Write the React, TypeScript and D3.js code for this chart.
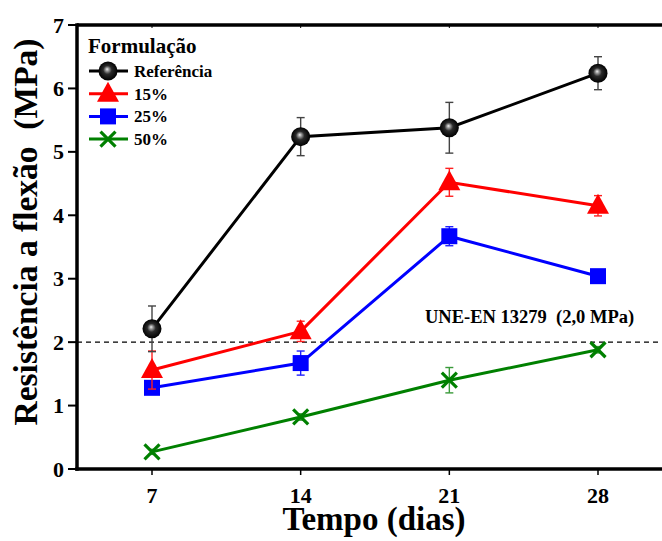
import React from "react";
import * as d3 from "d3";

const days = [7, 14, 21, 28];
const seriesNames = ["Referência", "15%", "25%", "50%"];
const refValues = [2.21, 5.24, 5.38, 6.24];
const refErrors = [0.36, 0.3, 0.4, 0.26];
const p15Values = [1.56, 2.17, 4.52, 4.15];
const p15Errors = [0.3, 0.16, 0.22, 0.16];
const p25Values = [1.28, 1.67, 3.67, 3.04];
const p25Errors = [0.05, 0.19, 0.15, 0.05];
const p50Values = [0.27, 0.82, 1.4, 1.88];
const p50Errors = [0.04, 0.05, 0.2, 0.05];
const yTicks = [0, 1, 2, 3, 4, 5, 6, 7];
const limitValue = 2.0;
const limitLabel = "UNE-EN 13279\u00a0\u00a0(2,0 MPa)";

const W = 662;
const H = 541;
const FONT = "'Liberation Serif', 'Times New Roman', Times, serif";

const x = d3.scaleLinear().domain([7, 28]).range([152, 598]);
const y = d3.scaleLinear().domain([0, 7]).range([469, 25]);
const plotLeft = 77;
const plotRight = 665;

type Series = {
  name: string;
  values: number[];
  errors: number[];
  color: string;
  errColor: string;
  marker: string;
};

const series: Series[] = [
  { name: seriesNames[0], values: refValues, errors: refErrors, color: "#000", errColor: "#444", marker: "sphere" },
  { name: seriesNames[1], values: p15Values, errors: p15Errors, color: "#ff0000", errColor: "#ff2020", marker: "triangle" },
  { name: seriesNames[2], values: p25Values, errors: p25Errors, color: "#0000ff", errColor: "#2020ff", marker: "square" },
  { name: seriesNames[3], values: p50Values, errors: p50Errors, color: "#008000", errColor: "#3a9a3a", marker: "cross" },
];

function Marker({ type, cx, cy, color }: { type: string; cx: number; cy: number; color: string }) {
  if (type === "sphere") {
    return <circle cx={cx} cy={cy} r={9.5} fill="url(#sphereGrad)" />;
  }
  if (type === "triangle") {
    const s = 11;
    return (
      <path
        d={`M${cx},${cy - 12} L${cx + s},${cy + 8} L${cx - s},${cy + 8} Z`}
        fill={color}
      />
    );
  }
  if (type === "square") {
    return <rect x={cx - 8} y={cy - 8} width={16} height={16} fill={color} />;
  }
  const s = 7.5;
  return (
    <g stroke={color} strokeWidth={3.2}>
      <line x1={cx - s} y1={cy - s} x2={cx + s} y2={cy + s} />
      <line x1={cx - s} y1={cy + s} x2={cx + s} y2={cy - s} />
    </g>
  );
}

export default function App() {
  const line = d3
    .line<number>()
    .x((_, i) => x(days[i]))
    .y((v) => y(v));

  const drawOrder = [...series].reverse();

  return (
    <svg
      width={W}
      height={H}
      style={{ position: "absolute", left: 0, top: 0, background: "#fff", fontFamily: FONT }}
    >
      <defs>
        <radialGradient id="sphereGrad" cx="50%" cy="50%" r="50%" fx="45%" fy="40%">
          <stop offset="0%" stopColor="#f0f0f0" />
          <stop offset="18%" stopColor="#9a9a9a" />
          <stop offset="45%" stopColor="#2a2a2a" />
          <stop offset="100%" stopColor="#000" />
        </radialGradient>
      </defs>
      <rect x={0} y={0} width={W} height={H} fill="#fff" />

      {/* dashed limit line */}
      <line
        x1={plotLeft}
        x2={plotRight}
        y1={y(limitValue)}
        y2={y(limitValue)}
        stroke="#000"
        strokeWidth={1.3}
        strokeDasharray="5,4"
      />
      <text x={425} y={y(limitValue) - 19} fontSize={18.5} fontWeight="bold" fill="#000">
        {limitLabel}
      </text>

      {/* series */}
      {drawOrder.map((s) => (
        <g key={s.name}>
          <path d={line(s.values) || ""} fill="none" stroke={s.color} strokeWidth={3} />
          {s.values.map((v, i) => {
            const cx = x(days[i]);
            const e = s.errors[i];
            return (
              <g key={i} stroke={s.errColor} strokeWidth={1.4}>
                <line x1={cx} x2={cx} y1={y(v + e)} y2={y(v - e)} />
                <line x1={cx - 4} x2={cx + 4} y1={y(v + e)} y2={y(v + e)} />
                <line x1={cx - 4} x2={cx + 4} y1={y(v - e)} y2={y(v - e)} />
              </g>
            );
          })}
          {s.values.map((v, i) => (
            <Marker key={i} type={s.marker} cx={x(days[i])} cy={y(v)} color={s.color} />
          ))}
        </g>
      ))}

      {/* axes */}
      <line x1={plotLeft} x2={plotRight} y1={y(7)} y2={y(7)} stroke="#000" strokeWidth={3.5} />
      <line x1={plotLeft - 1.75} x2={plotRight} y1={y(0)} y2={y(0)} stroke="#000" strokeWidth={3.5} />
      <line x1={plotLeft} x2={plotLeft} y1={y(7) - 1.75} y2={y(0) + 1.75} stroke="#000" strokeWidth={3.5} />

      {yTicks.map((t) => (
        <g key={t}>
          <line x1={plotLeft - 9} x2={plotLeft} y1={y(t)} y2={y(t)} stroke="#000" strokeWidth={2} />
          <text
            x={64}
            y={y(t) + 7.5}
            textAnchor="end"
            fontSize={22}
            fontWeight="bold"
            fill="#000"
          >
            {t}
          </text>
        </g>
      ))}

      {days.map((d) => (
        <g key={d}>
          <line x1={x(d)} x2={x(d)} y1={y(0)} y2={y(0) + 6} stroke="#000" strokeWidth={1.5} />
          <line x1={x(d)} x2={x(d)} y1={y(7)} y2={y(7) + 3} stroke="#000" strokeWidth={1} />
          <text x={x(d)} y={503} textAnchor="middle" fontSize={22} fontWeight="bold" fill="#000">
            {d}
          </text>
        </g>
      ))}

      {/* axis titles */}
      <text x={374} y={530} textAnchor="middle" fontSize={33} fontWeight="bold" fill="#000">
        Tempo (dias)
      </text>
      <text
        transform="translate(37,232) rotate(-90)"
        textAnchor="middle"
        fontSize={33.5}
        fontWeight="bold"
        fill="#000"
      >
        {"Resistência a flexão\u00a0\u00a0(MPa)"}
      </text>

      {/* legend */}
      <text x={88} y={53} fontSize={21} fontWeight="bold" fill="#000">
        Formulação
      </text>
      {series.map((s, i) => {
        const cy = 71 + i * 22.7;
        return (
          <g key={s.name}>
            <line x1={89} x2={128} y1={cy} y2={cy} stroke={s.color} strokeWidth={3} />
            <Marker type={s.marker} cx={108} cy={cy} color={s.color} />
            <text x={134} y={cy + 6} fontSize={17} fontWeight="bold" fill="#000">
              {s.name}
            </text>
          </g>
        );
      })}
    </svg>
  );
}
